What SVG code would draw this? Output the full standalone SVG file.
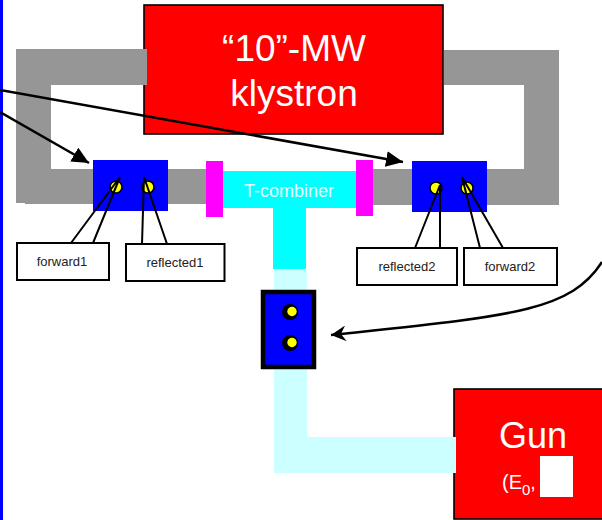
<svg xmlns="http://www.w3.org/2000/svg" width="602" height="520" viewBox="0 0 602 520">
<style>
text{font-family:"Liberation Sans",Arial,sans-serif}
.big{fill:#fff;font-size:37px;text-anchor:middle}
.lab{fill:#222;font-size:13px;text-anchor:middle}
.call{fill:#fff;stroke:#000;stroke-width:2}
.lead{fill:none;stroke:#000;stroke-width:2}
.red{fill:#f00;stroke:#000;stroke-width:1.6}
.gray{fill:#969696}
.port{fill:#ff0;stroke:#000;stroke-width:1.6}
.port2{fill:#ff0}
.line{fill:none;stroke:#000;stroke-width:2.5}
</style>
<defs>
<marker id="tri" markerUnits="userSpaceOnUse" markerWidth="18" markerHeight="16" refX="17" refY="8" orient="auto"><path d="M0 0L17 8L0 16Z" fill="#000"/></marker>
<marker id="stealth" markerUnits="userSpaceOnUse" markerWidth="18" markerHeight="16" refX="15" refY="8" orient="auto"><path d="M0 0L15 8L0 16L5 8Z" fill="#000"/></marker>
</defs>
<rect id="frame-line" x="0" y="0" width="3" height="520" fill="#00f"/>
<g id="klystron">
<rect class="red" x="144" y="5" width="299" height="129"/>
<text class="big" x="294" y="61">“10”-MW</text>
<text class="big" x="294" y="106">klystron</text>
</g>
<g id="waveguide">
<path class="gray" d="M16 49H147V85H51V169H207V204H25V203H16Z"/>
<path class="gray" d="M444 50H559V205H373V169H524V85H444Z"/>
</g>
<g id="gun">
<rect class="red" x="454" y="389" width="160" height="130"/>
<text class="big" x="533" y="448" style="font-size:36px">Gun</text>
<text x="502" y="489" fill="#fff" font-size="20">(E<tspan font-size="15" dy="6">0</tspan><tspan dy="-6">,</tspan></text>
<rect x="540" y="456" width="33" height="41" fill="#fff"/>
</g>
<g id="t-combiner">
<path fill="#cff" d="M274 269H307V437H456V473H274Z"/>
<path fill="#0ff" d="M223 171H356V208H306V269H273V208H223Z"/>
<rect x="206" y="161" width="17" height="56" fill="#f0f"/>
<rect x="356" y="160" width="17" height="56" fill="#f0f"/>
<text x="289" y="197" fill="#e6ffff" font-size="18" text-anchor="middle">T-combiner</text>
</g>
<g id="coupler1"><rect x="93" y="160" width="75" height="51" fill="#00f"/><circle class="port" cx="116" cy="187" r="6"/><circle class="port" cx="148" cy="187" r="6"/></g>
<g id="coupler2"><rect x="412" y="161" width="75" height="51" fill="#00f"/><circle class="port" cx="436" cy="188" r="6"/><circle class="port" cx="467" cy="188" r="6"/></g>
<g id="coupler3">
<rect x="263" y="292" width="51" height="75" fill="#00f" stroke="#000" stroke-width="4.5"/>
<circle cx="290" cy="312" r="8"/><circle class="port2" cx="292" cy="311.500" r="4.700"/>
<circle cx="290" cy="343" r="8"/><circle class="port2" cx="292" cy="342.500" r="4.700"/>
</g>
<g id="forward1"><rect class="call" x="17" y="243" width="92" height="37"/><path class="lead" d="M71 243L120 177L93 243"/><text class="lab" x="62" y="266">forward1</text></g>
<g id="reflected1"><rect class="call" x="126" y="244" width="98.500" height="37"/><path class="lead" d="M142 244L144 177L167 244"/><text class="lab" x="175" y="267">reflected1</text></g>
<g id="reflected2"><rect class="call" x="357" y="248" width="100" height="37"/><path class="lead" d="M415 248L440 185V248"/><text class="lab" x="407" y="271">reflected2</text></g>
<g id="forward2"><rect class="call" x="464" y="248" width="93" height="37"/><path class="lead" d="M480 248L462 177L503 248"/><text class="lab" x="510" y="271">forward2</text></g>
<g id="connectors">
<path class="line" marker-end="url(#tri)" d="M0 90L403 162"/>
<path class="line" marker-end="url(#tri)" d="M0 112L89 163"/>
<path class="line" marker-end="url(#stealth)" d="M602 262C570 312 510 316 331 335"/>
</g>
</svg>
